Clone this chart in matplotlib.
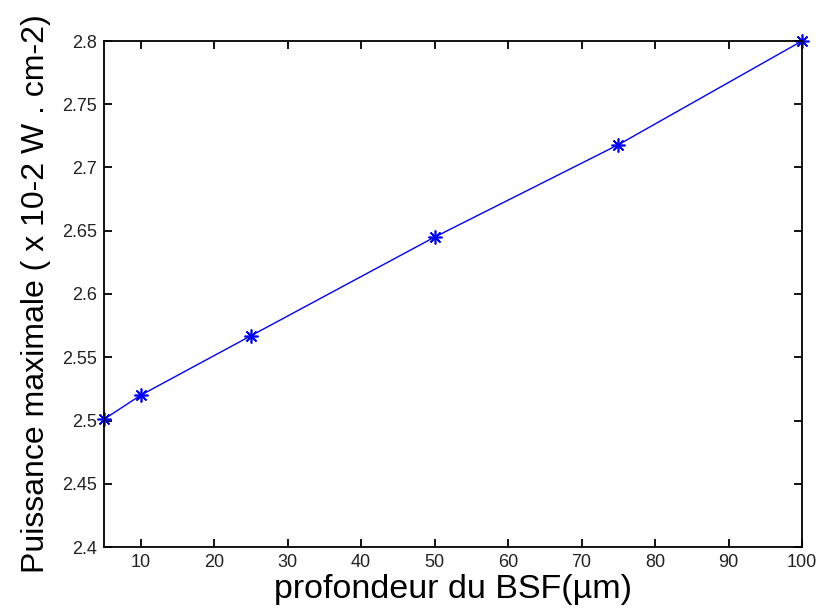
import matplotlib
matplotlib.use("Agg")
import matplotlib.pyplot as plt

depth = [5, 10, 25, 50, 75, 100]
power = [2.501, 2.520, 2.567, 2.645, 2.718, 2.800]
xticks = [10, 20, 30, 40, 50, 60, 70, 80, 90, 100]
yticks = [2.4, 2.45, 2.5, 2.55, 2.6, 2.65, 2.7, 2.75, 2.8]

plt.rcParams['font.family'] = ['Liberation Sans', 'DejaVu Sans']
fig = plt.figure(figsize=(8.19, 6.13), dpi=100)
ax = fig.add_axes([104/819, 1-547/613, (802-104)/819, (547-41)/613])
ax.plot(depth, power, color='blue', linewidth=1.0, marker=(8, 2, 0),
        markersize=10, markeredgewidth=1.2, clip_on=False)
ax.set_xlim(5, 100)
ax.set_ylim(2.4, 2.8)
ax.set_xticks(xticks)
ax.set_yticks(yticks)
ax.set_yticklabels([f"{v:g}" for v in yticks])
ax.tick_params(direction='in', length=6, width=1.3, labelsize=13, top=True,
               right=True, colors='black', pad=5)
ax.tick_params(labelcolor='#222222')
for s in ax.spines.values():
    s.set_linewidth(1.3)
ax.set_xlabel("profondeur du BSF(µm)", fontsize=24.5, labelpad=2)
ax.set_ylabel("Puissance maximale ( x 10-2 W . cm-2)", fontsize=23, labelpad=8)
fig.savefig("out.png", dpi=100)
